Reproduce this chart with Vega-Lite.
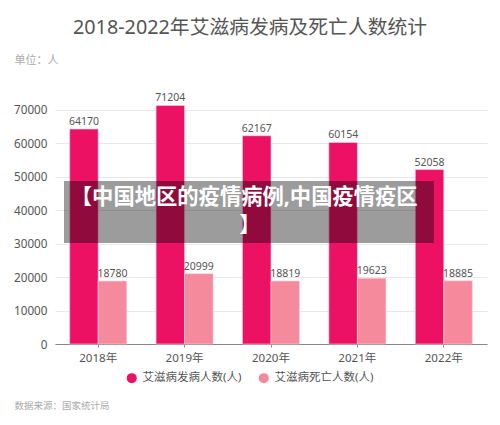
{
  "$schema": "https://vega.github.io/schema/vega-lite/v6.json",
  "width": 432,
  "height": 268,
  "autosize": "none",
  "padding": {"left": 55, "top": 76, "right": 13, "bottom": 81},
  "background": "white",
  "config": {
    "font": "Noto Sans, Noto Sans CJK SC",
    "view": {"stroke": null}
  },
  "title": {
    "text": "2018-2022年艾滋病发病及死亡人数统计",
    "fontSize": 19.8,
    "fontWeight": "normal",
    "color": "#555555",
    "anchor": "middle",
    "dx": -21,
    "offset": 16
  },
  "resolve": {"scale": {"x": "independent"}, "axis": {"y": "independent"}},
  "layer": [
    {
      "data": {"name": "bars"},
      "mark": {"type": "bar", "stroke": "#fbd3e4", "strokeWidth": 0.6},
      "encoding": {
        "x": {
          "field": "year",
          "type": "nominal",
          "scale": {"paddingInner": 0.34, "paddingOuter": 0.17},
          "axis": {
            "title": "数据来源：国家统计局",
            "titleFontSize": 9.5,
            "titleFontWeight": "normal",
            "titleColor": "#aaaaaa",
            "titleAlign": "left",
            "titleBaseline": "middle",
            "titleAnchor": "start",
            "titleX": -41,
            "titleY": 61,
            "labelAngle": 0,
            "labelFontSize": 11.6,
            "labelColor": "#555555",
            "labelPadding": 5,
            "tickSize": 3,
            "tickColor": "#888888",
            "domainColor": "#888888",
            "domainWidth": 1.2
          }
        },
        "xOffset": {
          "field": "series",
          "type": "nominal",
          "scale": {"domain": ["艾滋病发病人数(人)", "艾滋病死亡人数(人)"]}
        },
        "y": {
          "field": "count",
          "type": "quantitative",
          "scale": {"domain": [0, 80000]},
          "axis": {
            "title": "单位：人",
            "titleFontSize": 11,
            "titleFontWeight": "normal",
            "titleColor": "#aaaaaa",
            "titleAngle": 0,
            "titleAlign": "left",
            "titleBaseline": "middle",
            "titleX": -41,
            "titleY": -16,
            "values": [0, 10000, 20000, 30000, 40000, 50000, 60000, 70000],
            "format": "d",
            "labelOverlap": false,
            "labelFontSize": 11.7,
            "labelColor": "#555555",
            "labelPadding": 8,
            "ticks": false,
            "domain": false,
            "grid": true,
            "gridColor": "#e8e8e8",
            "gridWidth": 1.2
          }
        },
        "color": {
          "field": "series",
          "type": "nominal",
          "scale": {
            "domain": ["艾滋病发病人数(人)", "艾滋病死亡人数(人)"],
            "range": ["#ed1164", "#f48a9b"]
          },
          "legend": {
            "title": null,
            "orient": "none",
            "legendX": 71,
            "legendY": 296,
            "direction": "horizontal",
            "columns": 2,
            "columnPadding": 16,
            "symbolType": "circle",
            "symbolSize": 100,
            "symbolStrokeWidth": 0,
            "labelFontSize": 11.5,
            "labelColor": "#555555",
            "labelOffset": 5
          }
        }
      }
    },
    {
      "data": {"name": "bars"},
      "mark": {"type": "text", "baseline": "bottom", "dy": -2, "fontSize": 10.5, "color": "#555555"},
      "encoding": {
        "x": {"field": "year", "type": "nominal", "scale": {"paddingInner": 0.34, "paddingOuter": 0.17}, "axis": null},
        "xOffset": {
          "field": "series",
          "type": "nominal",
          "scale": {"domain": ["艾滋病发病人数(人)", "艾滋病死亡人数(人)"]}
        },
        "y": {"field": "count", "type": "quantitative", "axis": null},
        "text": {"field": "count", "type": "quantitative", "format": "d"}
      }
    },
    {
      "data": {"values": [{"x0": 2.08, "x1": 87.7, "y0": 30150, "y1": 48660}]},
      "mark": {"type": "rect", "color": "#000000", "opacity": 0.39},
      "encoding": {
        "x": {"field": "x0", "type": "quantitative", "scale": {"domain": [0, 100]}, "axis": null},
        "x2": {"field": "x1"},
        "y": {"field": "y0", "type": "quantitative", "axis": null},
        "y2": {"field": "y1"}
      }
    },
    {
      "data": {
        "values": [
          {"x": 43.8, "y": 43500, "label": "【中国地区的疫情病例,中国疫情疫区"},
          {"x": 45.1, "y": 35200, "label": "】"}
        ]
      },
      "mark": {"type": "text", "fontSize": 21.3, "fontWeight": "bold", "color": "#ffffff", "align": "center", "baseline": "middle"},
      "encoding": {
        "x": {"field": "x", "type": "quantitative", "scale": {"domain": [0, 100]}, "axis": null},
        "y": {"field": "y", "type": "quantitative", "axis": null},
        "text": {"field": "label"}
      }
    }
  ],
  "datasets": {
    "bars": [
      {"year": "2018年", "series": "艾滋病发病人数(人)", "count": 64170},
      {"year": "2018年", "series": "艾滋病死亡人数(人)", "count": 18780},
      {"year": "2019年", "series": "艾滋病发病人数(人)", "count": 71204},
      {"year": "2019年", "series": "艾滋病死亡人数(人)", "count": 20999},
      {"year": "2020年", "series": "艾滋病发病人数(人)", "count": 62167},
      {"year": "2020年", "series": "艾滋病死亡人数(人)", "count": 18819},
      {"year": "2021年", "series": "艾滋病发病人数(人)", "count": 60154},
      {"year": "2021年", "series": "艾滋病死亡人数(人)", "count": 19623},
      {"year": "2022年", "series": "艾滋病发病人数(人)", "count": 52058},
      {"year": "2022年", "series": "艾滋病死亡人数(人)", "count": 18885}
    ]
  }
}
